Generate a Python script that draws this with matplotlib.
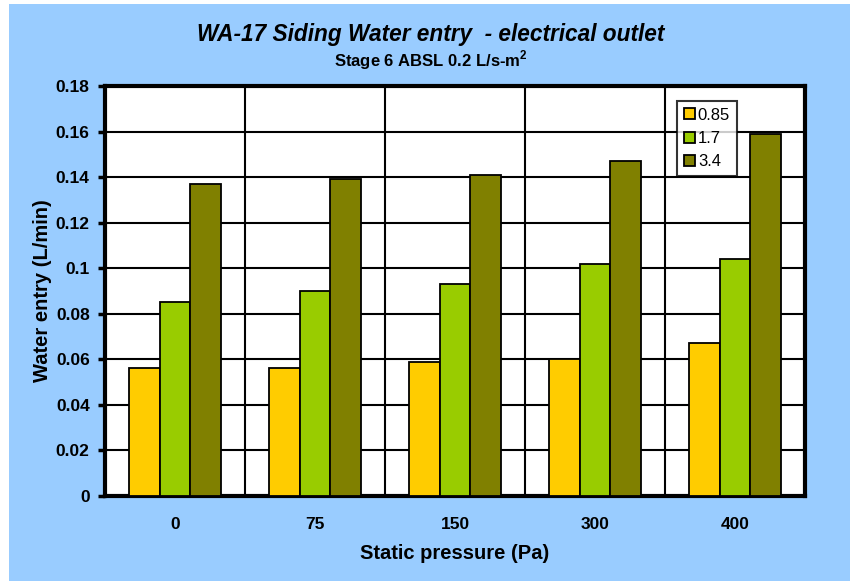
import matplotlib
matplotlib.use("Agg")
import matplotlib.pyplot as plt
import matplotlib.patches as mpatches
import numpy as np

categories = ["0", "75", "150", "300", "400"]
series_names = ["0.85", "1.7", "3.4"]
s_085 = [0.056, 0.056, 0.059, 0.060, 0.067]
s_17 = [0.085, 0.090, 0.093, 0.102, 0.104]
s_34 = [0.137, 0.139, 0.141, 0.147, 0.159]
colors = ["#FFCC00", "#99CC00", "#808000"]
yticks = [0, 0.02, 0.04, 0.06, 0.08, 0.1, 0.12, 0.14, 0.16, 0.18]

plt.rcParams['font.family'] = ['Liberation Sans', 'DejaVu Sans']
plt.rcParams['mathtext.fontset'] = 'custom'
plt.rcParams['mathtext.bf'] = 'Liberation Sans:bold'

W, H = 850, 581
fig = plt.figure(figsize=(W/100, H/100), dpi=100)
fig.patch.set_facecolor("white")
bg = mpatches.Rectangle((9/W, 0), 1 - 9/W, (H-4)/H,
                        transform=fig.transFigure,
                        facecolor="#99CCFF", edgecolor="none", zorder=-10)
fig.patches.append(bg)

ax = fig.add_axes([105/W, (H-496)/H, 700/W, 410/H])
ax.set_zorder(1)
ax.set_facecolor("white")

x = np.arange(len(categories))
bw = 0.22
for i, (vals, col, name) in enumerate(zip([s_085, s_17, s_34], colors, series_names)):
    ax.bar(x + (i-1)*bw, vals, width=bw, color=col, edgecolor="black",
           linewidth=1.3, label=name, zorder=3)

ax.set_xlim(-0.5, len(categories)-0.5)
ax.set_ylim(0, 0.18)
ax.set_yticks(yticks)
ax.set_yticklabels(["%g" % v for v in yticks], fontsize=12.5, fontweight="bold")
ax.set_xticks(x)
ax.set_xticklabels(categories, fontsize=12.5, fontweight="bold")
ax.set_xticks(np.arange(0.5, len(categories)-0.5, 1), minor=True)
ax.tick_params(axis="x", which="major", length=0, pad=15)
ax.tick_params(axis="x", which="minor", length=0)
ax.tick_params(axis="y", which="major", length=5, width=2.5, direction="out", pad=6)
ax.grid(axis="y", which="major", color="black", linewidth=1.5, zorder=1)
ax.grid(axis="x", which="minor", color="black", linewidth=1.5, zorder=1)
ax.set_axisbelow(True)
for sp in ax.spines.values():
    sp.set_linewidth(3)
    sp.set_color("black")

ax.set_xlabel("Static pressure (Pa)", fontsize=14.5, fontweight="bold", labelpad=9)
ax.set_ylabel("Water entry (L/min)", fontsize=14.5, fontweight="bold", labelpad=3)

fig.text(431/W, 1 - 34/H, "WA-17 Siding Water entry  - electrical outlet",
         ha="center", va="center", fontsize=16.3, fontweight="bold", style="italic")
fig.text(431/W, 1 - 60/H, "Stage 6 ABSL 0.2 L/s-m$^\\mathbf{2}$",
         ha="center", va="center", fontsize=12, fontweight="bold")

leg = ax.legend(loc="upper left", bbox_to_anchor=((677-105)/700, (496-101)/410),
                fontsize=12, frameon=True, fancybox=False, edgecolor="black",
                handlelength=0.65, handleheight=0.65, handletextpad=0.2,
                borderpad=0.4, labelspacing=0.5, borderaxespad=0)
leg.get_frame().set_linewidth(1.5)
leg.set_zorder(5)

fig.savefig("out.png", dpi=100, facecolor=fig.get_facecolor())
